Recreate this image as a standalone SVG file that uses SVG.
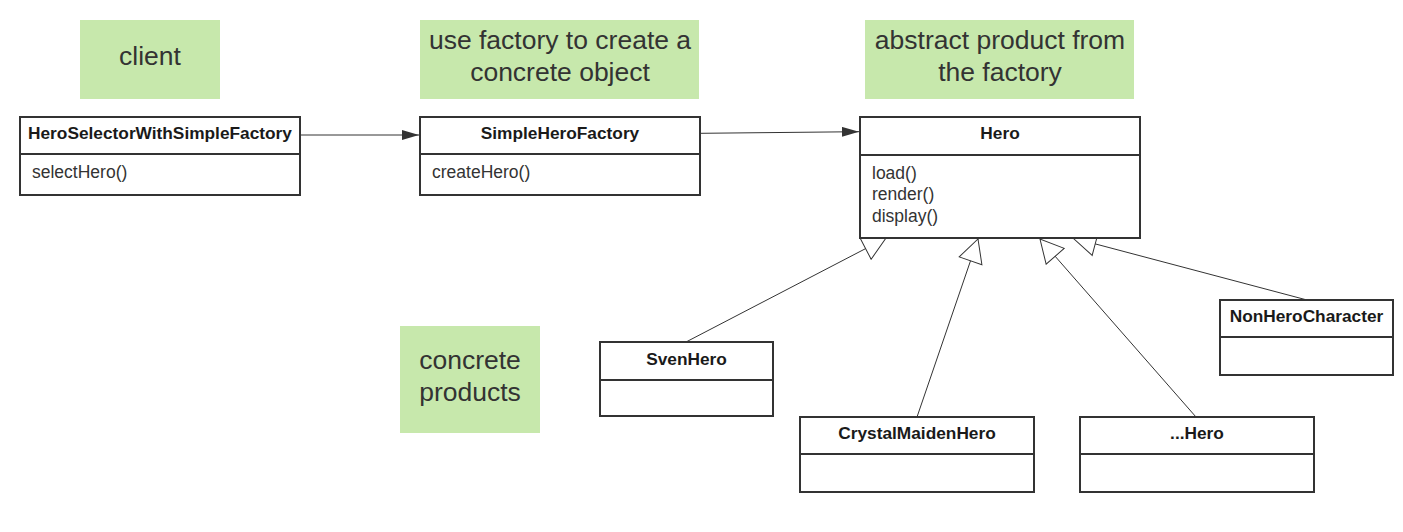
<svg xmlns="http://www.w3.org/2000/svg" width="1403" height="532" viewBox="0 0 1403 532">
<style>
.box{fill:#ffffff;stroke:#333333;stroke-width:2}
.div{stroke:#333333;stroke-width:2}
.note{fill:#c7e8ac}
.ntext{font-family:"Liberation Sans",Arial,sans-serif;font-size:26.5px;fill:#333333;text-anchor:middle}
.title{font-family:"Liberation Sans",Arial,sans-serif;font-size:17.3px;font-weight:bold;fill:#1a1a1a;text-anchor:middle}
.meth{font-family:"Liberation Sans",Arial,sans-serif;font-size:17.5px;fill:#333333}
.conn{fill:none;stroke:#333333;stroke-width:1}
</style>
<defs>
<marker id="arr" viewBox="0 0 17 10" refX="17" refY="5" markerWidth="17" markerHeight="10" markerUnits="userSpaceOnUse" orient="auto">
<path d="M0,0 L17,5 L0,10 Z" fill="#333333"/>
</marker>
<marker id="gen" viewBox="-1 -1 25 26" refX="23" refY="12" markerWidth="25" markerHeight="26" markerUnits="userSpaceOnUse" orient="auto">
<path d="M0,0 L23,12 L0,24 Z" fill="#ffffff" stroke="#333333" stroke-width="1"/>
</marker>
</defs>
<rect width="1403" height="532" fill="#ffffff"/>
<g id="notes">
<g id="note-client"><rect class="note" x="80" y="20" width="140" height="79"/><text class="ntext" x="150" y="65">client</text></g>
<g id="note-factory"><rect class="note" x="420" y="20" width="279" height="79"/><text class="ntext" x="560" y="48.5">use factory to create a</text><text class="ntext" x="560" y="81">concrete object</text></g>
<g id="note-abstract"><rect class="note" x="865" y="20" width="269" height="79"/><text class="ntext" x="1000" y="48.5">abstract product from</text><text class="ntext" x="1000" y="81">the factory</text></g>
<g id="note-concrete"><rect class="note" x="400" y="326" width="140" height="107"/><text class="ntext" x="470" y="369">concrete</text><text class="ntext" x="470" y="401">products</text></g>
</g>
<g id="connectors">
<path class="conn" d="M300,135 L419,135" marker-end="url(#arr)"/>
<path class="conn" d="M701,133.3 L859,131.7" marker-end="url(#arr)"/>
<path class="conn" d="M686,342 L886,238" marker-end="url(#gen)"/>
<path class="conn" d="M917,417 L978,239" marker-end="url(#gen)"/>
<path class="conn" d="M1196,417 L1040,239" marker-end="url(#gen)"/>
<path class="conn" d="M1307,300 L1073,238" marker-end="url(#gen)"/>
</g>
<g id="HeroSelectorWithSimpleFactory">
<rect class="box" x="20" y="117" width="280" height="78"/>
<line class="div" x1="20" y1="154" x2="300" y2="154"/>
<text class="title" x="160" y="139">HeroSelectorWithSimpleFactory</text>
<text class="meth" x="32" y="178">selectHero()</text>
</g>
<g id="SimpleHeroFactory">
<rect class="box" x="420" y="117" width="280" height="78"/>
<line class="div" x1="420" y1="154" x2="700" y2="154"/>
<text class="title" x="560" y="139">SimpleHeroFactory</text>
<text class="meth" x="432" y="178">createHero()</text>
</g>
<g id="Hero">
<rect class="box" x="860" y="117" width="280" height="121"/>
<line class="div" x1="860" y1="155" x2="1140" y2="155"/>
<text class="title" x="1000" y="139">Hero</text>
<text class="meth" x="872" y="178.5">load()</text>
<text class="meth" x="872" y="200">render()</text>
<text class="meth" x="872" y="221.5">display()</text>
</g>
<g id="SvenHero">
<rect class="box" x="600" y="342" width="173" height="74"/>
<line class="div" x1="600" y1="380" x2="773" y2="380"/>
<text class="title" x="686.5" y="365">SvenHero</text>
</g>
<g id="CrystalMaidenHero">
<rect class="box" x="800" y="417" width="234" height="75"/>
<line class="div" x1="800" y1="454" x2="1034" y2="454"/>
<text class="title" x="917" y="438.5">CrystalMaidenHero</text>
</g>
<g id="EllipsisHero">
<rect class="box" x="1080" y="417" width="234" height="75"/>
<line class="div" x1="1080" y1="454" x2="1314" y2="454"/>
<text class="title" x="1197" y="439">...Hero</text>
</g>
<g id="NonHeroCharacter">
<rect class="box" x="1220" y="300" width="173" height="75"/>
<line class="div" x1="1220" y1="337" x2="1393" y2="337"/>
<text class="title" x="1306.5" y="322">NonHeroCharacter</text>
</g>
</svg>
